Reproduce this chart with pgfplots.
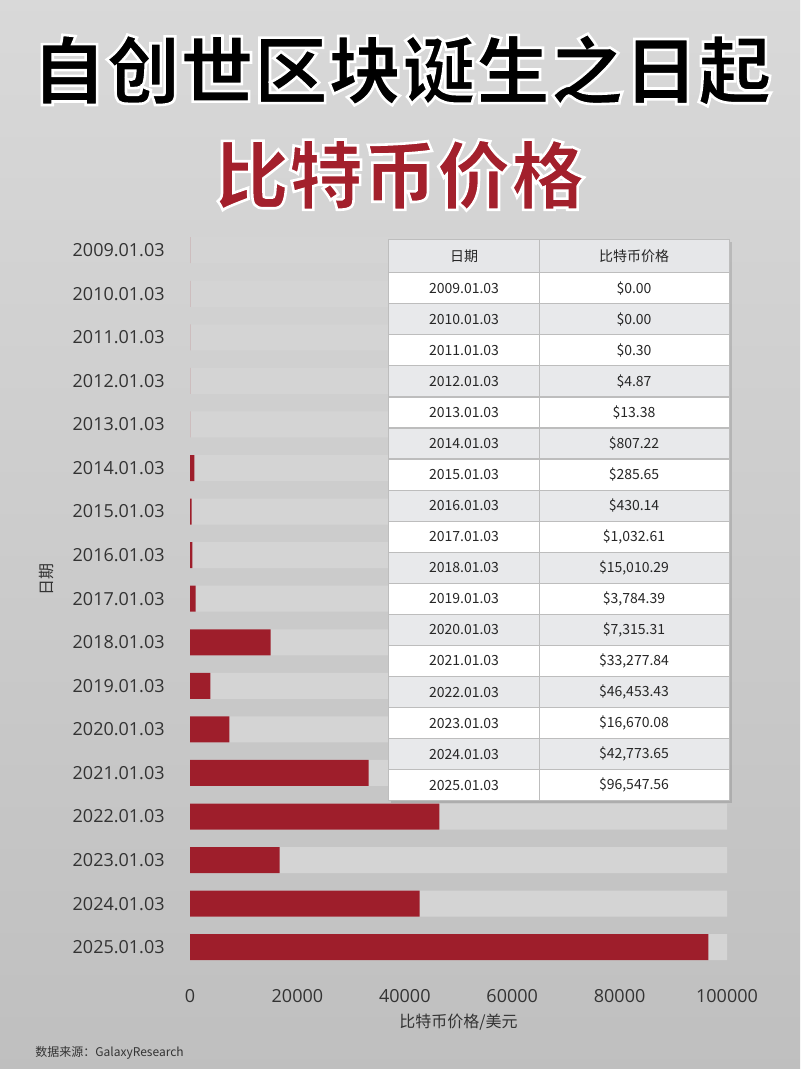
\documentclass[border=0pt]{standalone}
\usepackage{pgfplots}
\usepackage{pgfplotstable}
\pgfplotsset{compat=1.18}
\usepackage{fontspec}
\setmainfont{Open Sans}
\newfontfamily\cjk{Noto Sans CJK SC}
\definecolor{barred}{HTML}{9E1E2B}
\definecolor{titred}{HTML}{A3202C}
\definecolor{band}{HTML}{D4D4D4}
\definecolor{txt}{HTML}{333333}
\definecolor{hdr}{HTML}{E6E7E9}
\definecolor{rowg}{HTML}{E8E9EB}
\definecolor{gridc}{HTML}{BDBDBD}
\newcommand\outlined[1]{\special{pdf:literal direct 2 Tr 1.3 w 1 1 1 RG}#1\special{pdf:literal direct 0 Tr}}

\pgfplotstableread{
idx price
0 0.00
1 0.00
2 0.30
3 4.87
4 13.38
5 807.22
6 285.65
7 430.14
8 1032.61
9 15010.29
10 3784.39
11 7315.31
12 33277.84
13 46453.43
14 16670.08
15 42773.65
16 96547.56
}\prices

\pgfplotstableread{
idx full
0 100000
1 100000
2 100000
3 100000
4 100000
5 100000
6 100000
7 100000
8 100000
9 100000
10 100000
11 100000
12 100000
13 100000
14 100000
15 100000
16 100000
}\bands

\begin{document}
\begin{tikzpicture}
% background and titles (pixel coordinates, y downwards)
\begin{scope}[x=0.5pt,y=-0.5pt]
\shade[top color=black!15, bottom color=black!25] (0,0) rectangle (800,1069);
\node[text=black,font=\cjk\bfseries\fontsize{37}{37}\selectfont] at (402,70) {\outlined{自创世区块诞生之日起}};
\node[text=titred,font=\cjk\bfseries\fontsize{37}{37}\selectfont] at (400,175) {\outlined{比特币价格}};
\node[anchor=west,text=txt,font=\cjk\fontsize{6}{7}\selectfont,inner sep=0pt] at (35,1053) {数据来源：GalaxyResearch};
\end{scope}

\begin{axis}[
  at={(95pt,-484.5pt)}, anchor=south west,
  scale only axis, width=268.5pt, height=370.3pt,
  xmin=0, xmax=100000, ymin=-0.5, ymax=16.5, y dir=reverse,
  xbar, bar width=13pt, bar shift=0pt,
  axis line style={draw=none}, major tick length=0pt,
  ytick={0,...,16},
  yticklabels={2009.01.03,2010.01.03,2011.01.03,2012.01.03,2013.01.03,2014.01.03,2015.01.03,2016.01.03,2017.01.03,2018.01.03,2019.01.03,2020.01.03,2021.01.03,2022.01.03,2023.01.03,2024.01.03,2025.01.03},
  xtick={0,20000,40000,60000,80000,100000},
  xticklabels={0,20000,40000,60000,80000,100000},
  scaled x ticks=false,
  tick label style={font=\fontsize{9}{10}\selectfont, text=txt},
  yticklabel style={inner sep=0pt, xshift=-12.5pt},
  xticklabel style={inner sep=0pt, yshift=-10pt},
  xlabel={\cjk 比特币价格/美元},
  ylabel={\cjk 日期},
  xlabel style={at={(axis cs:50000,16.5)}, anchor=center, yshift=-26.5pt, font=\fontsize{8}{9}\selectfont, text=txt},
  ylabel style={at={(axis cs:0,7.55)}, anchor=center, yshift=71.5pt, font=\fontsize{8}{9}\selectfont, text=txt},
]
\addplot[fill=band, draw=none] table[x=full, y=idx] {\bands};
\addplot[fill=barred, draw=none] table[x=price, y=idx] {\prices};
\end{axis}

% data table overlay
\begin{scope}[x=0.5pt,y=-0.5pt]
\fill[black,opacity=0.12] (390.8,242) rectangle (732,803);
\fill[hdr] (388.3,239.3) rectangle (729.3,272.7);
\foreach \i in {1,...,17} {
  \pgfmathsetmacro{\ya}{272.7+(\i-1)*31.06}
  \pgfmathsetmacro{\yb}{\ya+31.06}
  \pgfmathtruncatemacro{\odd}{mod(\i,2)}
  \ifnum\odd=1 \fill[white] (388.3,\ya) rectangle (729.3,\yb); \else \fill[rowg] (388.3,\ya) rectangle (729.3,\yb); \fi
}
\foreach \i in {0,...,17} {
  \pgfmathsetmacro{\ya}{272.7+\i*31.06}
  \draw[gridc, line width=0.6pt] (388.3,\ya) -- (729.3,\ya);
}
\draw[gridc, line width=0.6pt] (388.3,239.3) rectangle (729.3,800.7);
\draw[gridc, line width=0.6pt] (539.3,239.3) -- (539.3,800.7);
\tikzset{tc/.style={font=\cjk\fontsize{7}{8}\selectfont, text=black!85, inner sep=0pt}}
\node[tc] at (464,256) {日期};
\node[tc] at (634,256) {比特币价格};
\foreach \d/\p [count=\k from 0] in {2009.01.03/\$0.00, 2010.01.03/\$0.00, 2011.01.03/\$0.30, 2012.01.03/\$4.87, 2013.01.03/\$13.38, 2014.01.03/\$807.22, 2015.01.03/\$285.65, 2016.01.03/\$430.14, 2017.01.03/\$1{,}032.61, 2018.01.03/\$15{,}010.29, 2019.01.03/\$3{,}784.39, 2020.01.03/\$7{,}315.31, 2021.01.03/\$33{,}277.84, 2022.01.03/\$46{,}453.43, 2023.01.03/\$16{,}670.08, 2024.01.03/\$42{,}773.65, 2025.01.03/\$96{,}547.56} {
  \pgfmathsetmacro{\yc}{272.7+(\k+0.5)*31.06}
  \node[tc] at (464,\yc) {\d};
  \node[tc] at (634,\yc) {\p};
}
\end{scope}
\pgfresetboundingbox
\useasboundingbox (0,0) rectangle (400pt,-534.5pt);
\end{tikzpicture}
\end{document}
